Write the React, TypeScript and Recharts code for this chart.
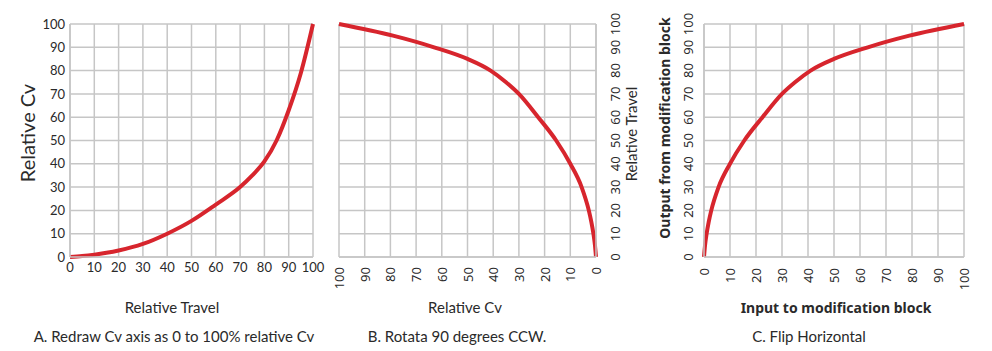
import React from 'react';
import { LineChart, Line, XAxis, YAxis, CartesianGrid } from 'recharts';

// Relative travel vs relative Cv (equal-percentage trim)
const travel = [0, 5, 10, 15, 20, 30, 40, 50, 60, 70, 75, 80, 85, 90, 95, 100];
const relCv = [0, 0.4, 1, 1.8, 2.8, 5.6, 10, 15.5, 22.5, 30, 35, 41, 50, 63, 79, 100];
const ticks = [0, 10, 20, 30, 40, 50, 60, 70, 80, 90, 100];

const points = travel.map((t, i) => ({ travel: t, cv: relCv[i] }));

const RED = '#d7252d';
const GRID = '#c6c6c6';
const TEXT = '#2a2a2a';
const FONT_A = 'Lato, "Noto Sans", sans-serif';
const FONT_BC = '"Noto Sans", "Open Sans", sans-serif';

// rotated tick text (reads bottom-to-top)
const RotTick = ({ x, y, payload, anchor }: any) => (
  <text
    x={x}
    y={y}
    transform={`rotate(-90, ${x}, ${y})`}
    textAnchor={anchor}
    dominantBaseline="central"
    fontSize={13}
    fill={TEXT}
    fontFamily={FONT_BC}
  >
    {payload.value}
  </text>
);

const Title = ({ x, y, rot, bold, size = 15, font = FONT_A, children }: any) => (
  <div
    style={{
      position: 'absolute',
      left: x,
      top: y,
      transform: `translate(-50%, -50%)${rot ? ' rotate(-90deg)' : ''}`,
      whiteSpace: 'nowrap',
      fontFamily: font,
      fontSize: size,
      fontWeight: bold ? 700 : 400,
      color: TEXT,
      lineHeight: 1,
    }}
  >
    {children}
  </div>
);

const grid = <CartesianGrid stroke={GRID} strokeWidth={1.5} />;

export default function App() {
  return (
    <div
      style={{
        position: 'absolute',
        left: 0,
        top: 0,
        width: 992,
        height: 351,
        background: '#fff',
      }}
    >
      {/* A */}
      <div style={{ position: 'absolute', left: 0, top: 0 }}>
        <LineChart
          width={330}
          height={351}
          data={points}
          margin={{ top: 24, right: 17, left: 0, bottom: 64 }}
        >
          {grid}
          <XAxis
            type="number"
            dataKey="travel"
            domain={[0, 100]}
            ticks={ticks}
            height={30}
            tickSize={0}
            tickMargin={6}
            axisLine={{ stroke: GRID, strokeWidth: 1.5 }}
            tick={{ fontSize: 13, fill: TEXT, fontFamily: FONT_A }}
            interval={0}
          />
          <YAxis
            type="number"
            domain={[0, 100]}
            ticks={ticks}
            width={70}
            tickSize={0}
            tickMargin={5}
            axisLine={{ stroke: GRID, strokeWidth: 1.5 }}
            tick={{ fontSize: 13, fill: TEXT, fontFamily: FONT_A }}
            interval={0}
          />
          <Line
            type="monotone"
            dataKey="cv"
            stroke={RED}
            strokeWidth={4}
            dot={false}
            isAnimationActive={false}
          />
        </LineChart>
      </div>

      {/* B */}
      <div style={{ position: 'absolute', left: 330, top: 0 }}>
        <LineChart
          width={330}
          height={351}
          data={points}
          margin={{ top: 24, right: 0, left: 9, bottom: 64 }}
        >
          {grid}
          <XAxis
            type="number"
            dataKey="cv"
            domain={[0, 100]}
            ticks={ticks}
            reversed
            height={30}
            tickSize={0}
            tickMargin={10}
            axisLine={{ stroke: GRID, strokeWidth: 1.5 }}
            tick={<RotTick anchor="end" />}
            interval={0}
          />
          <YAxis
            type="number"
            orientation="right"
            domain={[0, 100]}
            ticks={ticks}
            width={64}
            tickSize={0}
            tickMargin={19}
            axisLine={{ stroke: GRID, strokeWidth: 1.5 }}
            tick={<RotTick anchor="middle" />}
            interval={0}
          />
          <Line
            type="monotone"
            dataKey="travel"
            stroke={RED}
            strokeWidth={4}
            dot={false}
            isAnimationActive={false}
          />
        </LineChart>
      </div>

      {/* C */}
      <div style={{ position: 'absolute', left: 650, top: 0 }}>
        <LineChart
          width={342}
          height={351}
          data={points}
          margin={{ top: 24, right: 28, left: 0, bottom: 64 }}
        >
          {grid}
          <XAxis
            type="number"
            dataKey="cv"
            domain={[0, 100]}
            ticks={ticks}
            height={30}
            tickSize={0}
            tickMargin={11}
            axisLine={{ stroke: GRID, strokeWidth: 1.5 }}
            tick={<RotTick anchor="end" />}
            interval={0}
          />
          <YAxis
            type="number"
            domain={[0, 100]}
            ticks={ticks}
            width={54}
            tickSize={0}
            tickMargin={16}
            axisLine={{ stroke: GRID, strokeWidth: 1.5 }}
            tick={<RotTick anchor="middle" />}
            interval={0}
          />
          <Line
            type="monotone"
            dataKey="travel"
            stroke={RED}
            strokeWidth={4}
            dot={false}
            isAnimationActive={false}
          />
        </LineChart>
      </div>

      <Title x={27} y={133} rot size={20}>Relative Cv</Title>
      <Title x={172} y={307}>Relative Travel</Title>
      <Title x={174} y={336}>A. Redraw Cv axis as 0 to 100% relative Cv</Title>

      <Title x={465} y={307}>Relative Cv</Title>
      <Title x={631} y={134} rot>Relative Travel</Title>
      <Title x={457} y={336}>B. Rotata 90 degrees CCW.</Title>

      <Title x={665} y={128} rot bold size={14} font={FONT_BC}>Output from modification block</Title>
      <Title x={836} y={308} bold size={14} font={FONT_BC}>Input to modification block</Title>
      <Title x={809} y={336}>C. Flip Horizontal</Title>
    </div>
  );
}
